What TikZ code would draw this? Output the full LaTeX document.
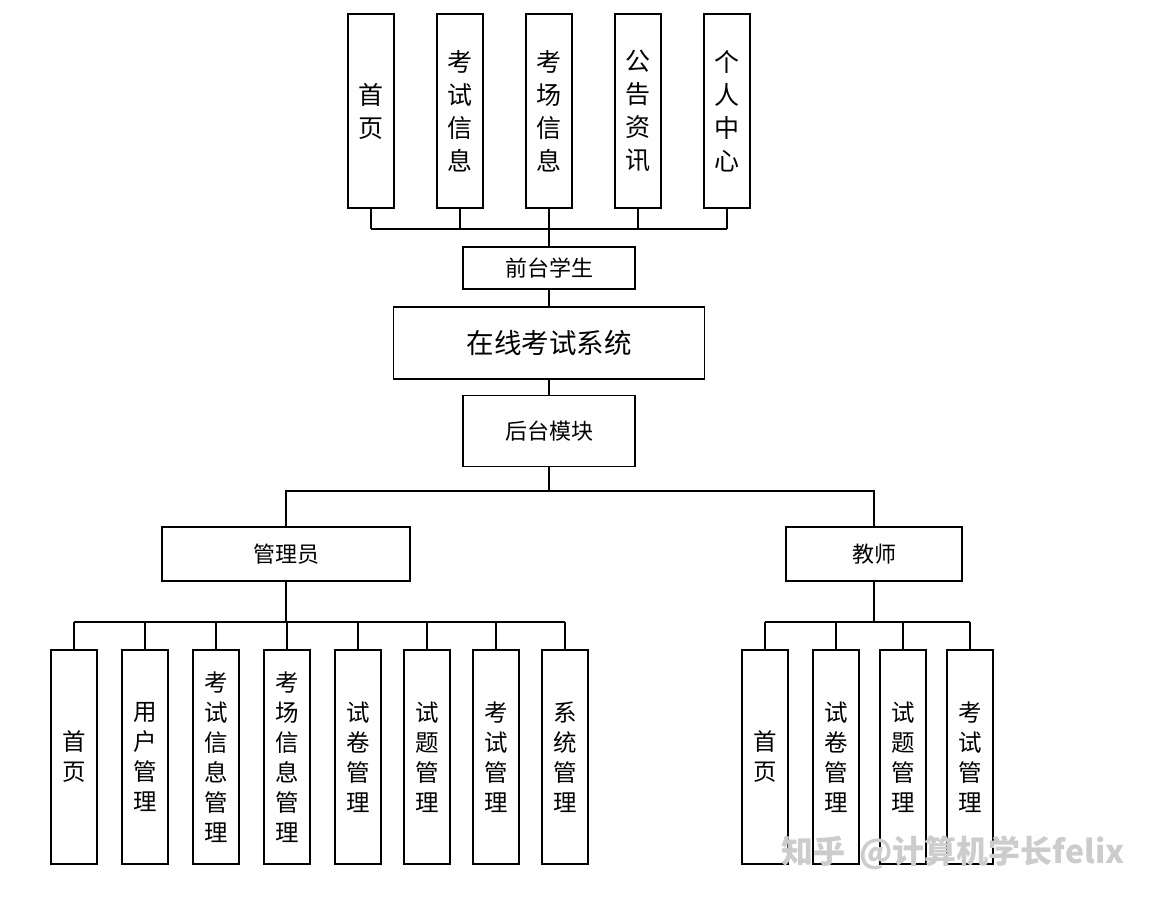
\documentclass[tikz,border=0pt]{standalone}
\usepackage{fontspec}
\setmainfont{Noto Sans CJK SC}
\newfontfamily\markfont{Noto Sans CJK SC}
\tikzset{
	box/.style={draw,line width=1.6pt,inner sep=0pt,align=center},
	topcol/.style={box,minimum width=46pt,minimum height=194pt,font=\fontsize{25}{33}\selectfont},
	lowcol/.style={box,minimum width=46pt,minimum height=214pt,font=\fontsize{23.5}{30}\selectfont},
	bar/.style={line width=1.6pt}
}
\begin{document}
\begin{tikzpicture}[x=1pt,y=-1pt]
	\useasboundingbox (0,0) rectangle (1150,899);
	%\draw[help lines] (0,0) grid[step=50] (1150,899);

	% front end
	\node[topcol] (t1) at (371,111) {首\\页};
	\node[topcol] (t2) at (460,111) {考\\试\\信\\息};
	\node[topcol] (t3) at (549,111) {考\\场\\信\\息};
	\node[topcol] (t4) at (638,111) {公\\告\\资\\讯};
	\node[topcol] (t5) at (727,111) {个\\人\\中\\心};
	\node[box,minimum width=172pt,minimum height=42pt,font=\fontsize{22}{24}\selectfont] (front) at (549,268) {前台学生};
	\node[box,minimum width=311pt,minimum height=72pt,font=\fontsize{27.5}{30}\selectfont] (sys) at (549,343) {在线考试系统};
	\node[box,minimum width=172pt,minimum height=71pt,font=\fontsize{22}{24}\selectfont] (back) at (549,431) {后台模块};

	\coordinate (TopBus) at (549,229);
	\foreach \n in {1,...,5}
		\draw[bar] (t\n.south) -- (t\n.south |- TopBus);
	\draw[bar] (t1.south |- TopBus) -- (t5.south |- TopBus);
	\draw[bar] (TopBus) -- (front.north);
	\draw[bar] (front.south) -- (sys.north);
	\draw[bar] (sys.south) -- (back.north);

	% back end
	\node[box,minimum width=248pt,minimum height=54pt,font=\fontsize{22}{24}\selectfont] (admin) at (286,554) {管理员};
	\node[box,minimum width=176pt,minimum height=54pt,font=\fontsize{22}{24}\selectfont] (teacher) at (874,554) {教师};
	\coordinate (MidBus) at (549,491);
	\draw[bar] (back.south) -- (MidBus);
	\draw[bar] (admin.north) |- (MidBus) -| (teacher.north);

	% admin modules
	\node[lowcol] (a1) at (74,757) {首\\页};
	\node[lowcol] (a2) at (145,757) {用\\户\\管\\理};
	\node[lowcol] (a3) at (216,757) {考\\试\\信\\息\\管\\理};
	\node[lowcol] (a4) at (287,757) {考\\场\\信\\息\\管\\理};
	\node[lowcol] (a5) at (358,757) {试\\卷\\管\\理};
	\node[lowcol] (a6) at (427,757) {试\\题\\管\\理};
	\node[lowcol] (a7) at (496,757) {考\\试\\管\\理};
	\node[lowcol] (a8) at (565,757) {系\\统\\管\\理};
	\coordinate (AdminBus) at (286,622);
	\draw[bar] (admin.south) -- (AdminBus);
	\foreach \n in {1,...,8}
		\draw[bar] (a\n.north) -- (a\n.north |- AdminBus);
	\draw[bar] (a1.north |- AdminBus) -- (a8.north |- AdminBus);

	% teacher modules
	\node[lowcol] (e1) at (765,757) {首\\页};
	\node[lowcol] (e2) at (836,757) {试\\卷\\管\\理};
	\node[lowcol] (e3) at (903,757) {试\\题\\管\\理};
	\node[lowcol] (e4) at (970,757) {考\\试\\管\\理};
	\coordinate (TeacherBus) at (874,622);
	\draw[bar] (teacher.south) -- (TeacherBus);
	\foreach \n in {1,...,4}
		\draw[bar] (e\n.north) -- (e\n.north |- TeacherBus);
	\draw[bar] (e1.north |- TeacherBus) -- (e4.north |- TeacherBus);

	% watermark
	\node[text=gray!40,font=\markfont\bfseries\fontsize{32}{34}\selectfont,inner sep=0pt] (mark) at (953,853) {知乎\hspace{14pt}@计算机学长felix};
\end{tikzpicture}
\end{document}
